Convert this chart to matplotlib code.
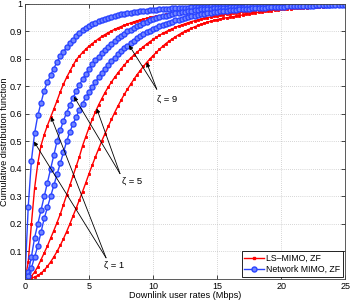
import numpy as np
import matplotlib
matplotlib.use("Agg")
import matplotlib.pyplot as plt

rates = [i * 0.25 for i in range(101)]

b1 = [0, 0.26, 0.43, 0.53, 0.595, 0.64, 0.685, 0.715, 0.742, 0.765, 0.79, 0.81, 0.827, 0.842, 0.857, 0.87,
      0.883, 0.895, 0.905, 0.913, 0.92, 0.926, 0.932, 0.937, 0.942, 0.946, 0.95, 0.953, 0.956, 0.959, 0.962,
      0.964, 0.966, 0.968, 0.97, 0.972, 0.973, 0.975, 0.976, 0.977, 0.978,
      0.979, 0.98, 0.981, 0.982, 0.983, 0.984, 0.984, 0.985, 0.986, 0.986, 0.987, 0.988, 0.988, 0.989, 0.989,
      0.99, 0.99, 0.991, 0.991, 0.992,
      0.992, 0.993, 0.993, 0.993, 0.994, 0.994, 0.994, 0.995, 0.995, 0.995, 0.995, 0.996, 0.996, 0.996, 0.996,
      0.997, 0.997, 0.997, 0.997, 0.997,
      0.997, 0.998, 0.998, 0.998, 0.998, 0.998, 0.998, 0.998, 0.999, 0.999, 0.999, 0.999, 0.999, 0.999, 0.999,
      0.999, 1, 1, 1, 1]

r1 = [0, 0.06, 0.2, 0.33, 0.42, 0.485, 0.525, 0.558, 0.588, 0.618, 0.648, 0.68, 0.708, 0.733, 0.755, 0.777,
      0.797, 0.811, 0.824, 0.836, 0.847, 0.856, 0.865, 0.874, 0.882, 0.889, 0.896, 0.902, 0.908, 0.913, 0.918,
      0.923, 0.927, 0.931, 0.935, 0.939, 0.942, 0.945, 0.948, 0.951, 0.954,
      0.956, 0.958, 0.96, 0.962, 0.964, 0.966, 0.967, 0.969, 0.97, 0.972, 0.973, 0.974, 0.975, 0.976, 0.977,
      0.978, 0.979, 0.98, 0.981, 0.982,
      0.983, 0.983, 0.984, 0.985, 0.985, 0.986, 0.987, 0.987, 0.988, 0.988, 0.989, 0.989, 0.99, 0.99, 0.991,
      0.991, 0.992, 0.992, 0.992, 0.993,
      0.993, 0.993, 0.994, 0.994, 0.994, 0.995, 0.995, 0.995, 0.995, 0.996, 0.996, 0.996, 0.996, 0.997, 0.997,
      0.997, 0.997, 0.998, 0.998, 0.998]

b5 = [0, 0.025, 0.08, 0.15, 0.2, 0.25, 0.3, 0.35, 0.4, 0.45, 0.5, 0.54, 0.575, 0.605, 0.632, 0.658,
      0.683, 0.706, 0.727, 0.746, 0.764, 0.78, 0.795, 0.809, 0.822, 0.834, 0.845, 0.856, 0.866, 0.875, 0.884,
      0.892, 0.9, 0.907, 0.913, 0.919, 0.925, 0.93, 0.935, 0.94, 0.944,
      0.948, 0.952, 0.955, 0.958, 0.961, 0.964, 0.966, 0.968, 0.97, 0.972, 0.974, 0.976, 0.977, 0.978, 0.98,
      0.981, 0.982, 0.983, 0.984, 0.985,
      0.986, 0.987, 0.987, 0.988, 0.989, 0.989, 0.99, 0.99, 0.991, 0.991, 0.992, 0.992, 0.993, 0.993, 0.994,
      0.994, 0.994, 0.995, 0.995, 0.995,
      0.996, 0.996, 0.996, 0.996, 0.997, 0.997, 0.997, 0.997, 0.997, 0.998, 0.998, 0.998, 0.998, 0.998, 0.998,
      0.999, 0.999, 0.999, 0.999, 0.999]

b9 = [0, 0.01, 0.04, 0.08, 0.12, 0.17, 0.22, 0.26, 0.3, 0.34, 0.38, 0.42, 0.46, 0.5, 0.535, 0.563,
      0.59, 0.615, 0.638, 0.66, 0.68, 0.698, 0.716, 0.733, 0.749, 0.764, 0.778, 0.792, 0.805, 0.817, 0.828,
      0.839, 0.849, 0.858, 0.867, 0.875, 0.883, 0.89, 0.897, 0.903, 0.909,
      0.914, 0.919, 0.924, 0.928, 0.932, 0.936, 0.94, 0.943, 0.946, 0.949, 0.952, 0.955, 0.957, 0.96, 0.962,
      0.964, 0.966, 0.968, 0.97, 0.971,
      0.973, 0.974, 0.976, 0.977, 0.978, 0.979, 0.98, 0.981, 0.982, 0.983, 0.984, 0.985, 0.986, 0.986, 0.987,
      0.988, 0.988, 0.989, 0.989, 0.99,
      0.99, 0.991, 0.991, 0.992, 0.992, 0.993, 0.993, 0.993, 0.994, 0.994, 0.995, 0.995, 0.995, 0.996, 0.996,
      0.996, 0.997, 0.997, 0.997, 0.998]

r5 = [0, 0.003, 0.01, 0.025, 0.045, 0.07, 0.095, 0.12, 0.148, 0.176, 0.205, 0.235, 0.27, 0.305, 0.34, 0.375,
      0.41, 0.445, 0.485, 0.518, 0.55, 0.58, 0.608, 0.633, 0.656, 0.678, 0.698, 0.716, 0.733, 0.749, 0.764,
      0.778, 0.791, 0.803, 0.814, 0.825, 0.835, 0.845, 0.854, 0.863, 0.871,
      0.879, 0.886, 0.893, 0.899, 0.905, 0.91, 0.915, 0.92, 0.924, 0.928, 0.932, 0.936, 0.939, 0.942, 0.945,
      0.948, 0.95, 0.953, 0.955, 0.957,
      0.959, 0.961, 0.963, 0.965, 0.966, 0.968, 0.969, 0.971, 0.972, 0.973, 0.974, 0.976, 0.977, 0.978, 0.979,
      0.981, 0.982, 0.983, 0.984, 0.985,
      0.985, 0.986, 0.987, 0.988, 0.988, 0.989, 0.99, 0.99, 0.991, 0.991, 0.992, 0.992, 0.993, 0.993, 0.994,
      0.994, 0.995, 0.995, 0.995, 0.996]

r9 = [0, 0.001, 0.003, 0.007, 0.013, 0.021, 0.032, 0.046, 0.062, 0.08, 0.1, 0.122, 0.146, 0.172, 0.2, 0.229,
      0.258, 0.288, 0.318, 0.35, 0.383, 0.414, 0.444, 0.473, 0.502, 0.529, 0.555, 0.58, 0.605, 0.628, 0.65,
      0.671, 0.69, 0.708, 0.726, 0.743, 0.758, 0.773, 0.787, 0.8, 0.812,
      0.824, 0.835, 0.846, 0.856, 0.865, 0.873, 0.881, 0.888, 0.895, 0.901, 0.907, 0.912, 0.917, 0.922, 0.926,
      0.93, 0.934, 0.937, 0.94, 0.943,
      0.946, 0.948, 0.95, 0.952, 0.954, 0.956, 0.958, 0.96, 0.962, 0.964, 0.966, 0.968, 0.97, 0.972, 0.973,
      0.975, 0.976, 0.978, 0.979, 0.98,
      0.981, 0.982, 0.983, 0.984, 0.985, 0.986, 0.987, 0.987, 0.988, 0.989, 0.989, 0.99, 0.99, 0.991, 0.992,
      0.992, 0.993, 0.993, 0.994, 0.994]

ls_series = [r1, r5, r9]
net_series = [b1, b5, b9]
legend_labels = ["LS\u2013MIMO, ZF", "Network MIMO, ZF"]
xticks = [0, 5, 10, 15, 20, 25]
yticks = [0.1, 0.2, 0.3, 0.4, 0.5, 0.6, 0.7, 0.8, 0.9, 1]

RED = "#ff0000"
BLUE = "#2a44ff"
BLUE_FILL = "#6f85ff"

plt.rcParams["font.family"] = ["Liberation Sans", "DejaVu Sans"]
fig = plt.figure(figsize=(3.51, 3.0), dpi=100)
ax = fig.add_axes([0.0712, 0.07, 0.912, 0.9167])

for s in ls_series:
    ax.plot(rates, s, color=RED, lw=1.0, marker="s", ms=1.6, mew=0.6, mfc=RED, mec=RED)
for s in net_series:
    ax.plot(rates, s, color=BLUE, lw=1.0, marker="o", ms=3.6, mew=1.0, mfc=BLUE_FILL, mec=BLUE)

# legend proxies
lh1, = ax.plot([], [], color=RED, lw=1.0, marker="s", ms=1.6, mfc=RED, mec=RED)
lh2, = ax.plot([], [], color=BLUE, lw=1.0, marker="o", ms=3.6, mew=1.0, mfc=BLUE_FILL, mec=BLUE)
leg = ax.legend([lh1, lh2], legend_labels, loc="lower right", fontsize=6.3, frameon=True,
                fancybox=False, edgecolor="black", framealpha=1, handlelength=2.2,
                borderpad=0.3, labelspacing=0.3, handletextpad=0.3, borderaxespad=0.25)
leg.get_frame().set_linewidth(0.6)

ax.set_xlim(0, 25)
ax.set_ylim(0, 1)
ax.set_xticks(xticks)
ax.set_yticks(yticks)
ax.set_yticklabels([("%g" % v) for v in yticks])
ax.tick_params(direction="in", length=3, width=0.5, labelsize=6.5, top=True, right=True, pad=2)
ax.grid(True, linestyle=(0, (1, 2)), color="#b0b0b0", lw=0.5)
for sp in ax.spines.values():
    sp.set_linewidth(0.6)
    sp.set_color("#404040")

ax.set_xlabel("Downlink user rates (Mbps)", fontsize=6.6, labelpad=0.5)
ax.set_ylabel("Cumulative distribution function", fontsize=6.6, labelpad=0)
ax.yaxis.set_label_coords(-0.049, 0.5)

arrow = dict(arrowstyle="-|>", color="black", lw=0.6, mutation_scale=6, shrinkA=0, shrinkB=0)
ann = [
    ("\u03b6 = 1", (6.95, 0.051), (6.33, 0.077), [(0.7, 0.5), (2.03, 0.59)]),
    ("\u03b6 = 5", (8.36, 0.354), (7.42, 0.383), [(3.83, 0.663), (5.6, 0.62)]),
    ("\u03b6 = 9", (11.1, 0.653), (10.29, 0.69), [(8.13, 0.85), (9.5, 0.787)]),
]
for txt, tpos, start, tips in ann:
    ax.text(tpos[0], tpos[1], txt, fontsize=6.8, ha="center", va="center")
    for tip in tips:
        ax.annotate("", xy=tip, xytext=start, arrowprops=arrow)

fig.savefig("out.png", dpi=100)
